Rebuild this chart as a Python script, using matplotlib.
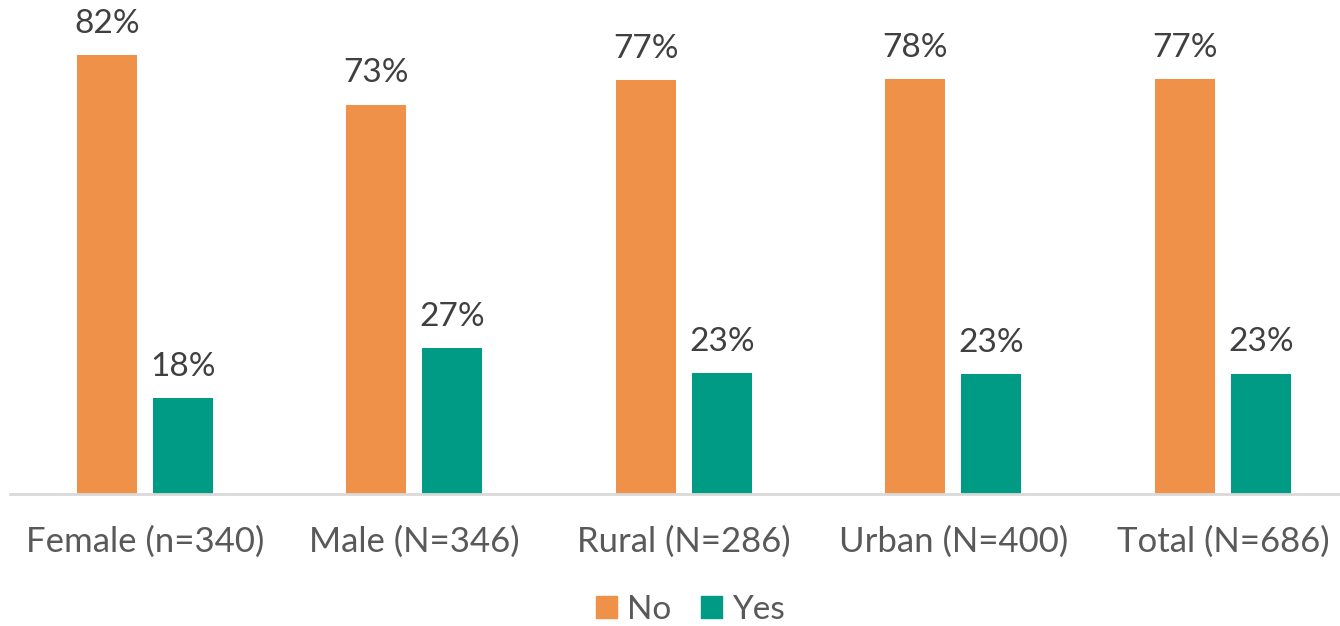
import matplotlib
matplotlib.use('Agg')
from matplotlib import pyplot as plt
from matplotlib.patches import Patch
import numpy as np

plt.rcParams['font.family'] = ['Lato', 'DejaVu Sans']

categories = ['Female (n=340)', 'Male (N=346)', 'Rural (N=286)', 'Urban (N=400)', 'Total (N=686)']
no_vals = [82.1, 72.8, 77.4, 77.6, 77.5]
yes_vals = [17.9, 27.2, 22.6, 22.4, 22.5]
no_labels = ['82%', '73%', '77%', '78%', '77%']
yes_labels = ['18%', '27%', '23%', '23%', '23%']
series_names = ['No', 'Yes']
colors = ['#F0914A', '#009B84']

fig = plt.figure(figsize=(13.4, 6.26), dpi=100)
W, H = 1340, 626
# axes placed in pixel terms, baseline at y=494
ax = fig.add_axes([10 / W, (H - 494) / H, (W - 10) / W, (494 - 20) / H])

x = np.arange(len(categories))
bw = 0.223
off = 0.141
bars_no = ax.bar(x - off, no_vals, bw, color=colors[0])
bars_yes = ax.bar(x + off, yes_vals, bw, color=colors[1])

for bars, labs in [(bars_no, no_labels), (bars_yes, yes_labels)]:
    for b, lab in zip(bars, labs):
        ax.annotate(lab, (b.get_x() + b.get_width() / 2, b.get_height()),
                    xytext=(0, 16), textcoords='offset points',
                    ha='center', va='baseline', fontsize=24, color='#404040')

ax.set_xlim(-0.5, (W - 145) / 269.5)
ax.set_ylim(0, 474 / 535 * 100)
ax.set_xticks(x)
ax.set_xticklabels(categories, fontsize=25, color='#595959')
ax.tick_params(axis='x', length=0, pad=23)
ax.set_yticks([])
for s in ['top', 'right', 'left']:
    ax.spines[s].set_visible(False)
ax.spines['bottom'].set_color('#D9D9D9')
ax.spines['bottom'].set_linewidth(2)

handles = [Patch(color=c, label=n) for c, n in zip(colors, series_names)]
fig.legend(handles=handles, loc='center', bbox_to_anchor=(690 / W, (H - 610) / H),
           ncol=2, frameon=False, fontsize=24, labelcolor='#595959',
           handlelength=0.63, handleheight=0.63, handletextpad=0.3, columnspacing=0.9)

fig.savefig('out.png', dpi=100)
